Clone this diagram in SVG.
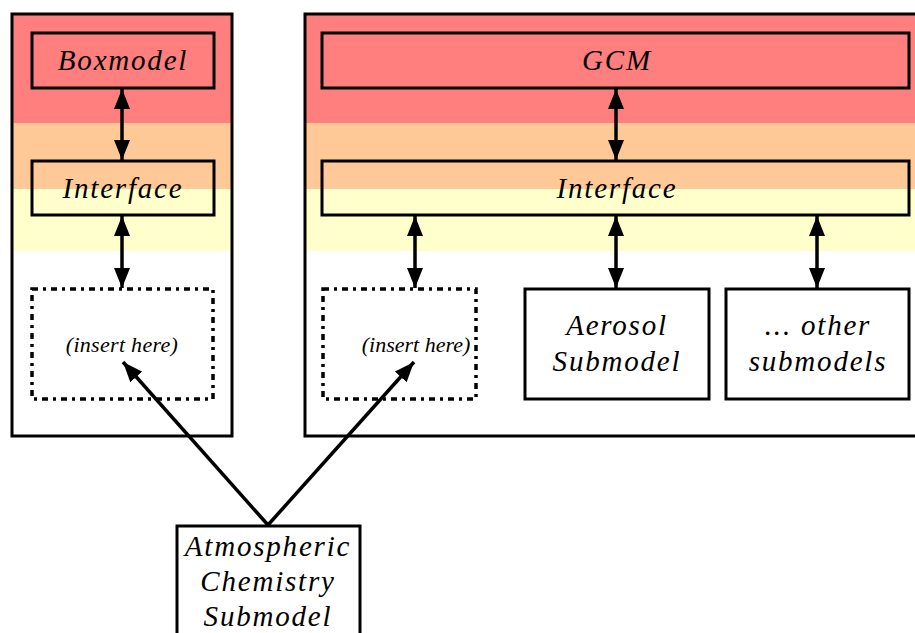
<svg xmlns="http://www.w3.org/2000/svg" width="915" height="633" viewBox="0 0 915 633">
<defs>
<style>
.box{fill:none;stroke:#000;stroke-width:3}
.dot{fill:none;stroke:#000;stroke-width:3.5;stroke-dasharray:6,5,3,5}
.t{font-family:"Liberation Serif","Times New Roman",serif;font-style:italic;font-size:29px;text-anchor:middle;letter-spacing:1.8px}
.s{font-family:"Liberation Serif","Times New Roman",serif;font-style:italic;font-size:22px;text-anchor:middle;letter-spacing:0.3px}
.c{stroke:#000;stroke-width:3.5;fill:none}
</style>
<marker id="ah" viewBox="0 0 20 16" refX="20" refY="8" markerWidth="20" markerHeight="16" markerUnits="userSpaceOnUse" orient="auto-start-reverse">
<path d="M0,0 L20,8 L0,16 z" fill="#000"/>
</marker>
</defs>
<rect width="915" height="633" fill="#fff"/>
<g id="bands">
<rect x="12" y="14" width="220" height="109" fill="#FF7F7F"/>
<rect x="12" y="123" width="220" height="66" fill="#FFC997"/>
<rect x="12" y="189" width="220" height="62" fill="#FFFFCC"/>
<rect x="305" y="14" width="615" height="109" fill="#FF7F7F"/>
<rect x="305" y="123" width="615" height="66" fill="#FFC997"/>
<rect x="305" y="189" width="615" height="62" fill="#FFFFCC"/>
</g>
<g id="panel-left"><rect class="box" x="12" y="14" width="220" height="422"/></g>
<g id="panel-right"><path class="box" d="M920,14 H305 V436 H920"/></g>
<g id="boxmodel"><rect class="box" x="32" y="33" width="182" height="55"/><text class="t" x="123" y="70">Boxmodel</text></g>
<g id="interface-left"><rect class="box" x="32" y="161" width="182" height="54"/><text class="t" x="123" y="198">Interface</text></g>
<g id="insert-left"><rect class="dot" x="32" y="289" width="181" height="110"/><text class="s" x="122" y="352">(insert here)</text></g>
<g id="gcm"><rect class="box" x="322" y="33" width="587" height="55"/><text class="t" x="617" y="70">GCM</text></g>
<g id="interface-right"><rect class="box" x="322" y="161" width="587" height="54"/><text class="t" x="617" y="198">Interface</text></g>
<g id="insert-right"><rect class="dot" x="323" y="289" width="153" height="110"/><text class="s" x="416" y="352" style="letter-spacing:0">(insert here)</text></g>
<g id="aerosol"><rect class="box" x="525" y="289" width="184" height="110"/><text class="t" x="617" y="335">Aerosol</text><text class="t" x="617" y="371">Submodel</text></g>
<g id="other"><rect class="box" x="726" y="289" width="183" height="110"/><text class="t" x="818" y="335">... other</text><text class="t" x="818" y="371">submodels</text></g>
<g id="atmchem"><rect class="box" x="177" y="526" width="183" height="120"/><text class="t" x="268" y="556">Atmospheric</text><text class="t" x="268" y="591">Chemistry</text><text class="t" x="268" y="626">Submodel</text></g>
<g id="connectors">
<line class="c" x1="122" y1="89" x2="122" y2="160" marker-start="url(#ah)" marker-end="url(#ah)"/>
<line class="c" x1="122" y1="216" x2="122" y2="288" marker-start="url(#ah)" marker-end="url(#ah)"/>
<line class="c" x1="616" y1="89" x2="616" y2="160" marker-start="url(#ah)" marker-end="url(#ah)"/>
<line class="c" x1="415" y1="216" x2="415" y2="288" marker-start="url(#ah)" marker-end="url(#ah)"/>
<line class="c" x1="616" y1="216" x2="616" y2="288" marker-start="url(#ah)" marker-end="url(#ah)"/>
<line class="c" x1="817" y1="216" x2="817" y2="288" marker-start="url(#ah)" marker-end="url(#ah)"/>
<line class="c" x1="268" y1="525" x2="123" y2="362" marker-end="url(#ah)"/>
<line class="c" x1="268" y1="525" x2="414" y2="362" marker-end="url(#ah)"/>
</g>
</svg>
